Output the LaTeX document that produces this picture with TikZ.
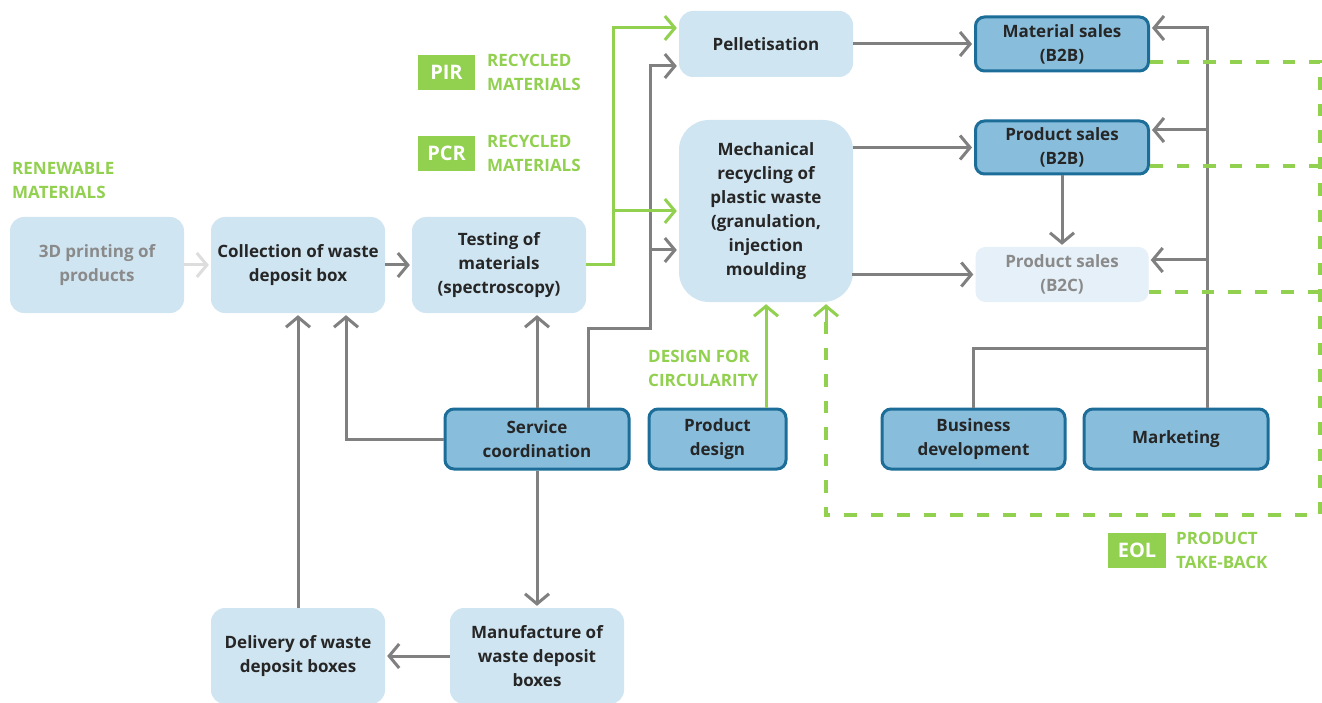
\documentclass[tikz,border=0pt]{standalone}
\usepackage{fontspec}
\setmainfont{Open Sans}
\usetikzlibrary{arrows.meta}
\definecolor{lb}{HTML}{D0E5F2}
\definecolor{llb}{HTML}{E5F0F8}
\definecolor{db}{HTML}{88BDDC}
\definecolor{dbd}{HTML}{1C6E99}
\definecolor{txt}{HTML}{262626}
\definecolor{ltxt}{HTML}{8A8A8A}
\definecolor{gry}{HTML}{808080}
\definecolor{lgry}{HTML}{DDDDDD}
\definecolor{grn}{HTML}{92D050}
\begin{document}
\begin{tikzpicture}[x=1pt,y=-1pt,
  boxfont/.style={font=\bfseries\fontsize{17}{24}\selectfont},
  lbox/.style={rectangle, rounded corners=14pt, fill=lb, text=txt, align=center, inner sep=0pt, boxfont},
  dbox/.style={rectangle, rounded corners=9pt, fill=db, draw=dbd, line width=3pt, text=txt, align=center, inner sep=0pt, boxfont},
  tip/.style={-{Straight Barb[length=10pt,width=24pt,line width=3pt]}},
  garr/.style={draw=gry, line width=3pt, tip, shorten >=2pt},
  gline/.style={draw=gry, line width=3pt},
  grarr/.style={draw=grn, line width=3pt, tip, shorten >=2pt},
  grdash/.style={draw=grn, line width=3.5pt, dash pattern=on 12.5pt off 14pt},
  glabel/.style={text=grn, font=\bfseries\fontsize{17}{24}\selectfont, align=left, inner sep=0pt, anchor=west},
  gtag/.style={fill=grn, text=white, font=\bfseries\fontsize{20}{20}\selectfont, minimum width=57pt, minimum height=35pt, inner sep=0pt}
]
\useasboundingbox (0,0) rectangle (1322,703);
\fill[white] (0,0) rectangle (1322,703);

% nodes
\node[lbox, text=ltxt, minimum width=174pt, minimum height=96pt] (print) at (97,265) {3D printing of\\products};
\node[lbox, minimum width=174pt, minimum height=96pt] (coll) at (298,265) {Collection of waste\\deposit box};
\node[lbox, minimum width=174pt, minimum height=96pt] (test) at (499,265) {Testing of\\materials\\(spectroscopy)};
\node[lbox, minimum width=174pt, minimum height=66pt] (pell) at (766,44) {Pelletisation};
\node[lbox, rounded corners=30pt, minimum width=174pt, minimum height=182pt] (mech) at (766,211) {Mechanical\\recycling of\\plastic waste\\(granulation,\\injection\\moulding};
\node[dbox, minimum width=173pt, minimum height=54pt] (msale) at (1062,44) {Material sales\\(B2B)};
\node[dbox, minimum width=173pt, minimum height=53pt] (psale) at (1062,147.5) {Product sales\\(B2B)};
\node[lbox, fill=llb, text=ltxt, rounded corners=10pt, minimum width=173pt, minimum height=55pt] (csale) at (1062,274.5) {Product sales\\(B2C)};
\node[dbox, minimum width=184pt, minimum height=60pt] (serv) at (537,439) {Service\\coordination};
\node[dbox, minimum width=137pt, minimum height=60pt] (pdes) at (717.5,439) {Product\\design};
\node[dbox, minimum width=183pt, minimum height=60pt] (bdev) at (973.5,439) {Business\\development};
\node[dbox, minimum width=184pt, minimum height=60pt] (mkt) at (1176,439) {Marketing};
\node[lbox, minimum width=174pt, minimum height=96pt] (deliv) at (298,656) {Delivery of waste\\deposit boxes};
\node[lbox, minimum width=174pt, minimum height=96pt] (manu) at (537,656) {Manufacture of\\waste deposit\\boxes};

% labels
\node[glabel] (renew) at (12,180) {RENEWABLE\\MATERIALS};
\node[gtag] (pir) at (446.5,72.5) {PIR};
\node[glabel] (pirl) at (487,72) {RECYCLED\\MATERIALS};
\node[gtag] (pcr) at (446.5,153.5) {PCR};
\node[glabel] (pcrl) at (487,153) {RECYCLED\\MATERIALS};
\node[glabel] (dfc) at (648,368.5) {DESIGN FOR\\CIRCULARITY};
\node[gtag, minimum width=58pt] (eol) at (1137,550.5) {EOL};
\node[glabel] (eoll) at (1176,550) {PRODUCT\\TAKE-BACK};

% grey connectors
\draw[draw=lgry, line width=3pt, tip, shorten >=2pt] (print.east) -- (coll.west);
\draw[garr] (coll.east) -- (test.west);
\draw[garr] (serv.north) -- (serv.north |- test.south);
\draw[garr] (serv.west) -| ([xshift=48pt]coll.south);
\draw[garr] (deliv.north) -- (coll.south);
\draw[garr] (serv.south) -- (manu.north);
\draw[garr] (manu.west) -- (deliv.east);
\draw[garr] ([xshift=51pt]serv.north) -- (588,328) -- (650,328) -- (650,66) -- ([yshift=-22pt]pell.west);
\draw[garr] (650,250) -- ([yshift=-39pt]mech.west);
\draw[garr] (pell.east) -- (msale.west);
\draw[garr] (mech.east |- psale.west) -- (psale.west);
\draw[garr] ([xshift=-1pt]mech.east |- csale.west) -- (csale.west);
\draw[garr] (psale.south) -- (csale.north);
\draw[garr] ([xshift=31pt]mkt.north) -- (1207,28) -- ([yshift=16pt]msale.east);
\draw[garr] (1207,130) -- ([yshift=17.5pt]psale.east);
\draw[garr] (1207,260) -- ([yshift=14.5pt]csale.east);
\draw[gline] (bdev.north) -- (973.5,348) -- (1207,348);

% green connectors
\draw[grarr] (test.east) -- (613,265) -- (613,28) -- ([yshift=16pt]pell.west);
\draw[grarr] (613,211) -- (mech.west);
\draw[grarr] (mech.south |- pdes.north) -- (mech.south);
\draw[grdash] ([yshift=-18pt]msale.east) -- (1320,62) -- (1320,515) -- (826,515) -- (826,322);
\draw[grarr] (826,324) -- ([xshift=60pt]mech.south);
\draw[grdash] ([yshift=-18.5pt]psale.east) -- (1320,166);
\draw[grdash] ([yshift=-17.5pt]csale.east) -- (1320,292);
\end{tikzpicture}
\end{document}
